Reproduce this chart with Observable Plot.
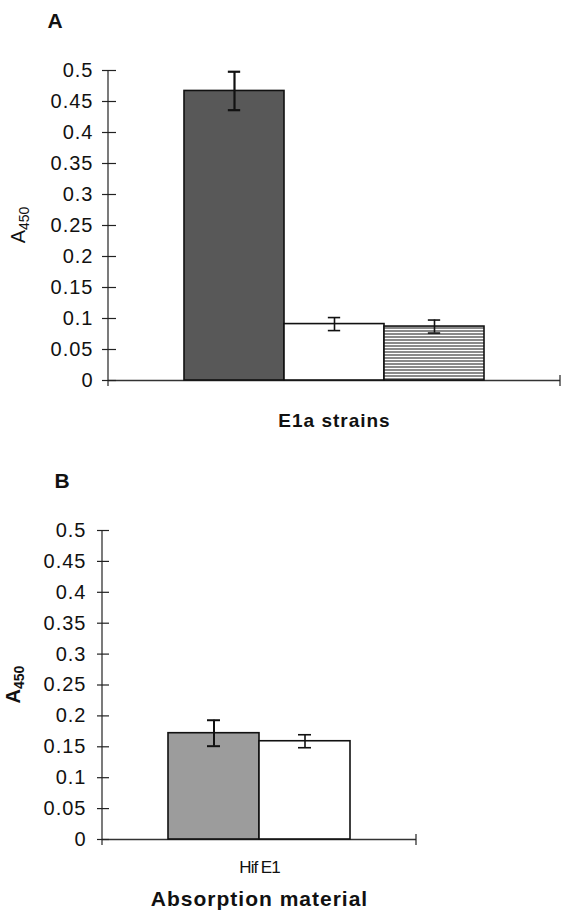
<!DOCTYPE html>
<html>
<head>
<meta charset="utf-8">
<script src="https://cdn.jsdelivr.net/npm/d3@7"></script>
<script src="https://cdn.jsdelivr.net/npm/@observablehq/plot@0.6"></script>
<style>
  body { margin: 0; background: #fff; }
  #wrap { width: 561px; height: 915px; position: relative; overflow: hidden; background: #fff; }
  #wrap svg { display: block; }
</style>
</head>
<body>
<svg width="0" height="0" style="position:absolute">
  <defs>
    <pattern id="hstripes" width="6" height="3" patternUnits="userSpaceOnUse">
      <rect width="6" height="3" fill="#ffffff"></rect>
      <rect width="6" height="2" fill="#8a8a8a"></rect>
    </pattern>
  </defs>
</svg>
<div id="wrap"></div>
<script>
// ---------- data ----------
const panelLetters = ["A", "B"];
const strainsA = ["Strain 1", "Strain 2", "Strain 3"];
const valuesA = [0.467, 0.091, 0.087];
const errorsA = [0.031, 0.0105, 0.0105];
const seriesB = ["Series 1", "Series 2"];
const valuesB = [0.172, 0.159];
const errorsB = [0.021, 0.0105];
const yTicks = [0, 0.05, 0.1, 0.15, 0.2, 0.25, 0.3, 0.35, 0.4, 0.45, 0.5];
const yTickLabels = ["0", "0.05", "0.1", "0.15", "0.2", "0.25", "0.3", "0.35", "0.4", "0.45", "0.5"];
const categoryB = "Hif E1";
const xTitleA = "E1a strains";
const xTitleB = "Absorption material";
const yTitleMain = "A";
const yTitleSub = "450";

// ---------- styles ----------
const FONT = "'Liberation Sans', Arial, Helvetica, sans-serif";
const fillsA = ["#585858", "#ffffff", "url(#hstripes)"];
const fillsB = ["#9c9c9c", "#ffffff"];
const errWidthA = [2.2, 1.6, 1.6];
const errWidthB = [2.0, 1.6];

const tickFmt = new Map(yTicks.map((t, i) => [t, yTickLabels[i]]));

function panel(o) {
  const data = o.series.map((s, i) => ({series: s, value: o.values[i], err: o.errors[i], i}));
  const frameW = o.width - o.marginLeft - o.marginRight;
  const step = frameW / (o.series.length + 2 * o.paddingOuter);
  const capInset = (step - o.capWidth) / 2;
  const axisLines = (index, scales, values, dims) => {
    const y0 = scales.y(0);
    const yTop = scales.y(d3.max(yTicks));
    const g = d3.create("svg:g").attr("stroke", "#222").attr("stroke-width", 1.2).attr("fill", "none");
    g.append("line").attr("x1", dims.marginLeft).attr("x2", dims.marginLeft).attr("y1", yTop).attr("y2", y0 + 6);
    const xr = dims.width - dims.marginRight;
    g.append("line").attr("x1", xr).attr("x2", xr).attr("y1", y0 - 5).attr("y2", y0 + 6);
    return g.node();
  };
  const marks = [
    Plot.ruleY([0], {stroke: "#333", strokeWidth: 1.3}),
    Plot.barY(data, {x: "series", y: "value", fill: "series", stroke: "#111", strokeWidth: 1.6}),
    axisLines,
    Plot.axisY(yTicks, {
      anchor: "left", label: null, tickSize: o.tickSize, dx: o.tickIn, tickPadding: o.tickPadding,
      tickFormat: d => tickFmt.get(d), fontSize: 20, stroke: "#222", strokeWidth: 1.2
    }),
    Plot.ruleX(data, {x: "series", y1: d => d.value - d.err, y2: d => d.value + d.err, stroke: "#111", strokeWidth: d => o.errWidth[d.i]}),
    Plot.tickY(data, {x: "series", y: d => d.value + d.err, stroke: "#111", strokeWidth: d => o.errWidth[d.i], insetLeft: capInset, insetRight: capInset}),
    Plot.tickY(data, {x: "series", y: d => d.value - d.err, stroke: "#111", strokeWidth: d => o.errWidth[d.i], insetLeft: capInset, insetRight: capInset}),
    Plot.text([o.letter], {frameAnchor: "top-left", lineAnchor: "middle", dx: o.letterDx, dy: -49, fontWeight: "bold", fontSize: 21, textAnchor: "middle", fill: "#111"}),
    Plot.text([o.xTitle], {frameAnchor: "bottom", lineAnchor: "middle", dy: o.xTitleDy, fontWeight: "bold", fontSize: o.xTitleSize, textAnchor: "middle", fill: "#111"})
  ];
  if (o.category) {
    marks.push(Plot.text([o.category], {frameAnchor: "bottom", lineAnchor: "middle", dy: o.categoryDy, fontSize: 17, textAnchor: "middle", fill: "#111"}));
  }
  const svg = Plot.plot({
    width: o.width, height: o.height,
    marginLeft: o.marginLeft, marginRight: o.marginRight, marginTop: o.marginTop, marginBottom: o.marginBottom,
    style: {fontFamily: FONT, color: "#111", background: "white", overflow: "visible", letterSpacing: "1px"},
    x: {type: "band", domain: o.series, paddingInner: 0, paddingOuter: o.paddingOuter, axis: null},
    y: {domain: [0, 0.5], axis: null},
    color: {type: "ordinal", domain: o.series, range: o.fills},
    marks
  });
  // narrow category label
  d3.select(svg).selectAll("text").filter(function () { return this.textContent === o.category; })
    .attr("letter-spacing", "-1px");
  // rotated y-axis title with subscript
  const yc = o.marginTop + (o.height - o.marginTop - o.marginBottom) / 2;
  const t = d3.select(svg).append("text")
    .attr("transform", `translate(${o.yTitleX},${yc}) rotate(-90)`)
    .attr("text-anchor", "middle")
    .attr("font-family", FONT)
    .attr("font-size", 20)
    .attr("font-weight", o.yTitleBold ? "bold" : "normal")
    .attr("letter-spacing", "0px")
    .attr("fill", "#111");
  t.append("tspan").text(yTitleMain);
  t.append("tspan").attr("font-size", 14).attr("dy", 4).text(yTitleSub);
  return svg;
}

const wrap = document.getElementById("wrap");
wrap.appendChild(panel({
  letter: panelLetters[0], letterDx: -53,
  series: strainsA, values: valuesA, errors: errorsA, fills: fillsA, errWidth: errWidthA,
  width: 561, height: 460, marginLeft: 108, marginRight: 1, marginTop: 70, marginBottom: 80,
  paddingOuter: 0.745, capWidth: 13,
  tickSize: 14, tickIn: 8, tickPadding: 9,
  xTitle: xTitleA, xTitleDy: 40, xTitleSize: 19,
  category: null,
  yTitleX: 25, yTitleBold: false
}));
wrap.appendChild(panel({
  letter: panelLetters[1], letterDx: -40,
  series: seriesB, values: valuesB, errors: errorsB, fills: fillsB, errWidth: errWidthB,
  width: 561, height: 455, marginLeft: 102, marginRight: 145, marginTop: 70, marginBottom: 76,
  paddingOuter: 0.725, capWidth: 13,
  tickSize: 12, tickIn: 7, tickPadding: 11,
  xTitle: xTitleB, xTitleDy: 60, xTitleSize: 21,
  category: categoryB, categoryDy: 28,
  yTitleX: 20, yTitleBold: true
}));
</script>
</body>
</html>
